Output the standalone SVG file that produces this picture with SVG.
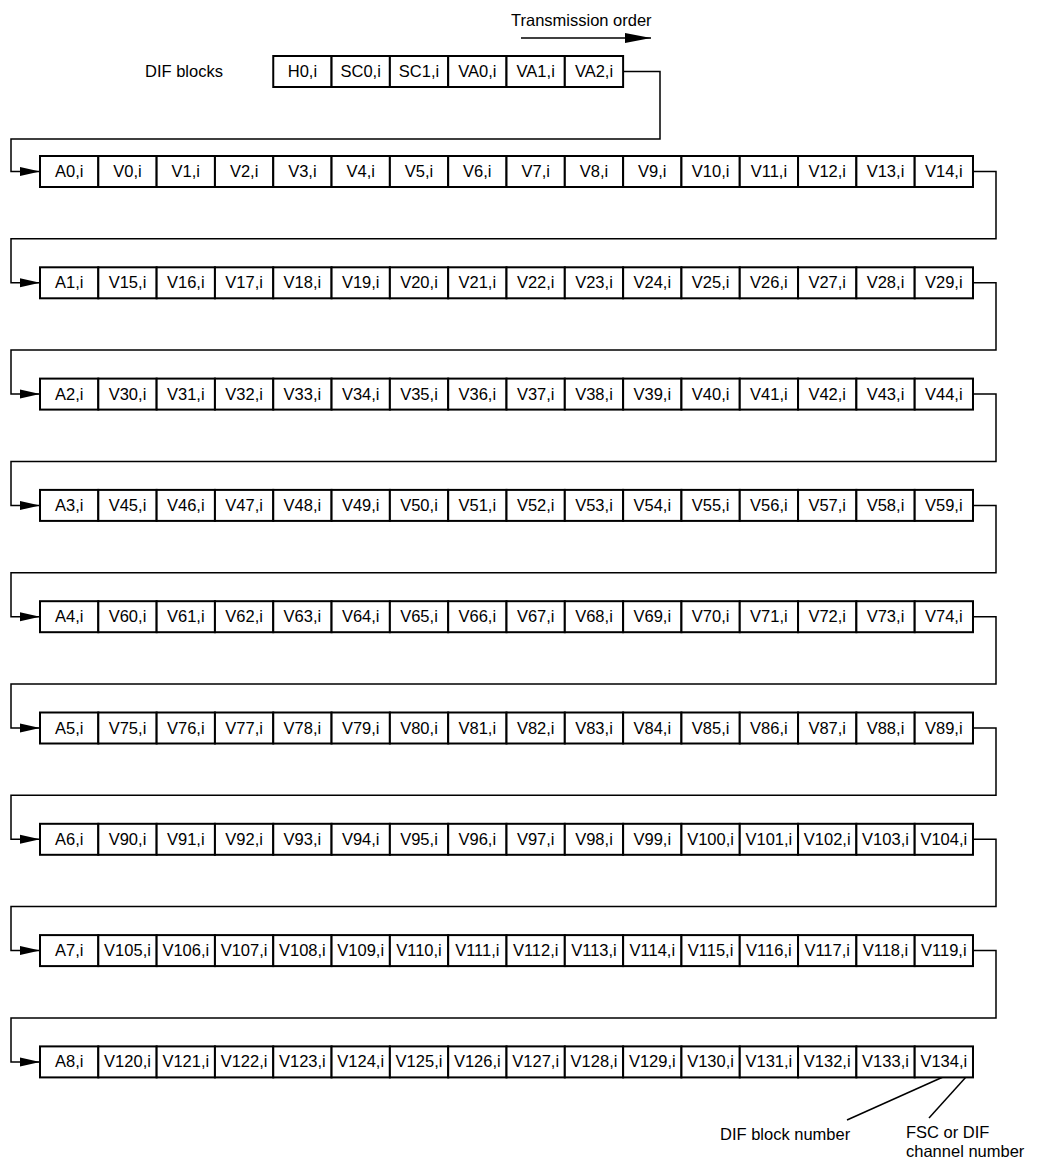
<svg xmlns="http://www.w3.org/2000/svg" width="1043" height="1162" viewBox="0 0 1043 1162">
<style>
text{font-family:"Liberation Sans",Arial,sans-serif;font-size:16.5px;fill:#000}
.b rect{fill:#fff;stroke:#000;stroke-width:2}
.b text{text-anchor:middle}
.c{fill:none;stroke:#000;stroke-width:1.5}
</style>
<defs>
<marker id="ah" markerUnits="userSpaceOnUse" markerWidth="20" markerHeight="10" refX="20" refY="5" orient="auto" viewBox="0 0 20 10"><path d="M0,0.5L20,5L0,9.5z" fill="#000"/></marker>
<marker id="ahb" markerUnits="userSpaceOnUse" markerWidth="26" markerHeight="11" refX="26" refY="5.5" orient="auto" viewBox="0 0 26 11"><path d="M0,0.5L26,5.5L0,10.5z" fill="#000"/></marker>
</defs>
<rect width="1043" height="1162" fill="#fff"/>
<text x="511" y="26">Transmission order</text>
<text x="145" y="77">DIF blocks</text>
<g id="connectors">
<path class="c" d="M521,38H651" marker-end="url(#ahb)"/>
<path class="c" d="M623,71.5H660V139H11V171.5H40" marker-end="url(#ah)"/>
<path class="c" d="M973,171.5H996V238.8H11V282.8H40" marker-end="url(#ah)"/>
<path class="c" d="M973,282.8H996V350.1H11V394.1H40" marker-end="url(#ah)"/>
<path class="c" d="M973,394.1H996V461.4H11V505.4H40" marker-end="url(#ah)"/>
<path class="c" d="M973,505.4H996V572.7H11V616.7H40" marker-end="url(#ah)"/>
<path class="c" d="M973,616.7H996V684H11V728H40" marker-end="url(#ah)"/>
<path class="c" d="M973,728H996V795.3H11V839.3H40" marker-end="url(#ah)"/>
<path class="c" d="M973,839.3H996V906.6H11V950.6H40" marker-end="url(#ah)"/>
<path class="c" d="M973,950.6H996V1017.9H11V1061.9H40" marker-end="url(#ah)"/>
<path class="c" d="M943,1077L847,1120"/>
<path class="c" d="M966,1077L929,1118"/>
</g>
<g id="top-row">
<g id="H0" class="b"><rect x="273.25" y="56" width="58.3" height="31"/><text x="302.4" y="77">H0,i</text></g>
<g id="SC0" class="b"><rect x="331.56" y="56" width="58.3" height="31"/><text x="360.7" y="77">SC0,i</text></g>
<g id="SC1" class="b"><rect x="389.88" y="56" width="58.3" height="31"/><text x="419" y="77">SC1,i</text></g>
<g id="VA0" class="b"><rect x="448.19" y="56" width="58.3" height="31"/><text x="477.3" y="77">VA0,i</text></g>
<g id="VA1" class="b"><rect x="506.5" y="56" width="58.3" height="31"/><text x="535.7" y="77">VA1,i</text></g>
<g id="VA2" class="b"><rect x="564.81" y="56" width="58.3" height="31"/><text x="594" y="77">VA2,i</text></g>
</g>
<g id="row0">
<g id="A0" class="b"><rect x="40" y="156" width="58.3" height="31"/><text x="69.2" y="177">A0,i</text></g>
<g id="V0" class="b"><rect x="98.31" y="156" width="58.3" height="31"/><text x="127.5" y="177">V0,i</text></g>
<g id="V1" class="b"><rect x="156.63" y="156" width="58.3" height="31"/><text x="185.8" y="177">V1,i</text></g>
<g id="V2" class="b"><rect x="214.94" y="156" width="58.3" height="31"/><text x="244.1" y="177">V2,i</text></g>
<g id="V3" class="b"><rect x="273.25" y="156" width="58.3" height="31"/><text x="302.4" y="177">V3,i</text></g>
<g id="V4" class="b"><rect x="331.56" y="156" width="58.3" height="31"/><text x="360.7" y="177">V4,i</text></g>
<g id="V5" class="b"><rect x="389.88" y="156" width="58.3" height="31"/><text x="419" y="177">V5,i</text></g>
<g id="V6" class="b"><rect x="448.19" y="156" width="58.3" height="31"/><text x="477.3" y="177">V6,i</text></g>
<g id="V7" class="b"><rect x="506.5" y="156" width="58.3" height="31"/><text x="535.7" y="177">V7,i</text></g>
<g id="V8" class="b"><rect x="564.81" y="156" width="58.3" height="31"/><text x="594" y="177">V8,i</text></g>
<g id="V9" class="b"><rect x="623.13" y="156" width="58.3" height="31"/><text x="652.3" y="177">V9,i</text></g>
<g id="V10" class="b"><rect x="681.44" y="156" width="58.3" height="31"/><text x="710.6" y="177">V10,i</text></g>
<g id="V11" class="b"><rect x="739.75" y="156" width="58.3" height="31"/><text x="768.9" y="177">V11,i</text></g>
<g id="V12" class="b"><rect x="798.06" y="156" width="58.3" height="31"/><text x="827.2" y="177">V12,i</text></g>
<g id="V13" class="b"><rect x="856.38" y="156" width="58.3" height="31"/><text x="885.5" y="177">V13,i</text></g>
<g id="V14" class="b"><rect x="914.69" y="156" width="58.3" height="31"/><text x="943.8" y="177">V14,i</text></g>
</g>
<g id="row1">
<g id="A1" class="b"><rect x="40" y="267.3" width="58.3" height="31"/><text x="69.2" y="288.3">A1,i</text></g>
<g id="V15" class="b"><rect x="98.31" y="267.3" width="58.3" height="31"/><text x="127.5" y="288.3">V15,i</text></g>
<g id="V16" class="b"><rect x="156.63" y="267.3" width="58.3" height="31"/><text x="185.8" y="288.3">V16,i</text></g>
<g id="V17" class="b"><rect x="214.94" y="267.3" width="58.3" height="31"/><text x="244.1" y="288.3">V17,i</text></g>
<g id="V18" class="b"><rect x="273.25" y="267.3" width="58.3" height="31"/><text x="302.4" y="288.3">V18,i</text></g>
<g id="V19" class="b"><rect x="331.56" y="267.3" width="58.3" height="31"/><text x="360.7" y="288.3">V19,i</text></g>
<g id="V20" class="b"><rect x="389.88" y="267.3" width="58.3" height="31"/><text x="419" y="288.3">V20,i</text></g>
<g id="V21" class="b"><rect x="448.19" y="267.3" width="58.3" height="31"/><text x="477.3" y="288.3">V21,i</text></g>
<g id="V22" class="b"><rect x="506.5" y="267.3" width="58.3" height="31"/><text x="535.7" y="288.3">V22,i</text></g>
<g id="V23" class="b"><rect x="564.81" y="267.3" width="58.3" height="31"/><text x="594" y="288.3">V23,i</text></g>
<g id="V24" class="b"><rect x="623.13" y="267.3" width="58.3" height="31"/><text x="652.3" y="288.3">V24,i</text></g>
<g id="V25" class="b"><rect x="681.44" y="267.3" width="58.3" height="31"/><text x="710.6" y="288.3">V25,i</text></g>
<g id="V26" class="b"><rect x="739.75" y="267.3" width="58.3" height="31"/><text x="768.9" y="288.3">V26,i</text></g>
<g id="V27" class="b"><rect x="798.06" y="267.3" width="58.3" height="31"/><text x="827.2" y="288.3">V27,i</text></g>
<g id="V28" class="b"><rect x="856.38" y="267.3" width="58.3" height="31"/><text x="885.5" y="288.3">V28,i</text></g>
<g id="V29" class="b"><rect x="914.69" y="267.3" width="58.3" height="31"/><text x="943.8" y="288.3">V29,i</text></g>
</g>
<g id="row2">
<g id="A2" class="b"><rect x="40" y="378.6" width="58.3" height="31"/><text x="69.2" y="399.6">A2,i</text></g>
<g id="V30" class="b"><rect x="98.31" y="378.6" width="58.3" height="31"/><text x="127.5" y="399.6">V30,i</text></g>
<g id="V31" class="b"><rect x="156.63" y="378.6" width="58.3" height="31"/><text x="185.8" y="399.6">V31,i</text></g>
<g id="V32" class="b"><rect x="214.94" y="378.6" width="58.3" height="31"/><text x="244.1" y="399.6">V32,i</text></g>
<g id="V33" class="b"><rect x="273.25" y="378.6" width="58.3" height="31"/><text x="302.4" y="399.6">V33,i</text></g>
<g id="V34" class="b"><rect x="331.56" y="378.6" width="58.3" height="31"/><text x="360.7" y="399.6">V34,i</text></g>
<g id="V35" class="b"><rect x="389.88" y="378.6" width="58.3" height="31"/><text x="419" y="399.6">V35,i</text></g>
<g id="V36" class="b"><rect x="448.19" y="378.6" width="58.3" height="31"/><text x="477.3" y="399.6">V36,i</text></g>
<g id="V37" class="b"><rect x="506.5" y="378.6" width="58.3" height="31"/><text x="535.7" y="399.6">V37,i</text></g>
<g id="V38" class="b"><rect x="564.81" y="378.6" width="58.3" height="31"/><text x="594" y="399.6">V38,i</text></g>
<g id="V39" class="b"><rect x="623.13" y="378.6" width="58.3" height="31"/><text x="652.3" y="399.6">V39,i</text></g>
<g id="V40" class="b"><rect x="681.44" y="378.6" width="58.3" height="31"/><text x="710.6" y="399.6">V40,i</text></g>
<g id="V41" class="b"><rect x="739.75" y="378.6" width="58.3" height="31"/><text x="768.9" y="399.6">V41,i</text></g>
<g id="V42" class="b"><rect x="798.06" y="378.6" width="58.3" height="31"/><text x="827.2" y="399.6">V42,i</text></g>
<g id="V43" class="b"><rect x="856.38" y="378.6" width="58.3" height="31"/><text x="885.5" y="399.6">V43,i</text></g>
<g id="V44" class="b"><rect x="914.69" y="378.6" width="58.3" height="31"/><text x="943.8" y="399.6">V44,i</text></g>
</g>
<g id="row3">
<g id="A3" class="b"><rect x="40" y="489.9" width="58.3" height="31"/><text x="69.2" y="510.9">A3,i</text></g>
<g id="V45" class="b"><rect x="98.31" y="489.9" width="58.3" height="31"/><text x="127.5" y="510.9">V45,i</text></g>
<g id="V46" class="b"><rect x="156.63" y="489.9" width="58.3" height="31"/><text x="185.8" y="510.9">V46,i</text></g>
<g id="V47" class="b"><rect x="214.94" y="489.9" width="58.3" height="31"/><text x="244.1" y="510.9">V47,i</text></g>
<g id="V48" class="b"><rect x="273.25" y="489.9" width="58.3" height="31"/><text x="302.4" y="510.9">V48,i</text></g>
<g id="V49" class="b"><rect x="331.56" y="489.9" width="58.3" height="31"/><text x="360.7" y="510.9">V49,i</text></g>
<g id="V50" class="b"><rect x="389.88" y="489.9" width="58.3" height="31"/><text x="419" y="510.9">V50,i</text></g>
<g id="V51" class="b"><rect x="448.19" y="489.9" width="58.3" height="31"/><text x="477.3" y="510.9">V51,i</text></g>
<g id="V52" class="b"><rect x="506.5" y="489.9" width="58.3" height="31"/><text x="535.7" y="510.9">V52,i</text></g>
<g id="V53" class="b"><rect x="564.81" y="489.9" width="58.3" height="31"/><text x="594" y="510.9">V53,i</text></g>
<g id="V54" class="b"><rect x="623.13" y="489.9" width="58.3" height="31"/><text x="652.3" y="510.9">V54,i</text></g>
<g id="V55" class="b"><rect x="681.44" y="489.9" width="58.3" height="31"/><text x="710.6" y="510.9">V55,i</text></g>
<g id="V56" class="b"><rect x="739.75" y="489.9" width="58.3" height="31"/><text x="768.9" y="510.9">V56,i</text></g>
<g id="V57" class="b"><rect x="798.06" y="489.9" width="58.3" height="31"/><text x="827.2" y="510.9">V57,i</text></g>
<g id="V58" class="b"><rect x="856.38" y="489.9" width="58.3" height="31"/><text x="885.5" y="510.9">V58,i</text></g>
<g id="V59" class="b"><rect x="914.69" y="489.9" width="58.3" height="31"/><text x="943.8" y="510.9">V59,i</text></g>
</g>
<g id="row4">
<g id="A4" class="b"><rect x="40" y="601.2" width="58.3" height="31"/><text x="69.2" y="622.2">A4,i</text></g>
<g id="V60" class="b"><rect x="98.31" y="601.2" width="58.3" height="31"/><text x="127.5" y="622.2">V60,i</text></g>
<g id="V61" class="b"><rect x="156.63" y="601.2" width="58.3" height="31"/><text x="185.8" y="622.2">V61,i</text></g>
<g id="V62" class="b"><rect x="214.94" y="601.2" width="58.3" height="31"/><text x="244.1" y="622.2">V62,i</text></g>
<g id="V63" class="b"><rect x="273.25" y="601.2" width="58.3" height="31"/><text x="302.4" y="622.2">V63,i</text></g>
<g id="V64" class="b"><rect x="331.56" y="601.2" width="58.3" height="31"/><text x="360.7" y="622.2">V64,i</text></g>
<g id="V65" class="b"><rect x="389.88" y="601.2" width="58.3" height="31"/><text x="419" y="622.2">V65,i</text></g>
<g id="V66" class="b"><rect x="448.19" y="601.2" width="58.3" height="31"/><text x="477.3" y="622.2">V66,i</text></g>
<g id="V67" class="b"><rect x="506.5" y="601.2" width="58.3" height="31"/><text x="535.7" y="622.2">V67,i</text></g>
<g id="V68" class="b"><rect x="564.81" y="601.2" width="58.3" height="31"/><text x="594" y="622.2">V68,i</text></g>
<g id="V69" class="b"><rect x="623.13" y="601.2" width="58.3" height="31"/><text x="652.3" y="622.2">V69,i</text></g>
<g id="V70" class="b"><rect x="681.44" y="601.2" width="58.3" height="31"/><text x="710.6" y="622.2">V70,i</text></g>
<g id="V71" class="b"><rect x="739.75" y="601.2" width="58.3" height="31"/><text x="768.9" y="622.2">V71,i</text></g>
<g id="V72" class="b"><rect x="798.06" y="601.2" width="58.3" height="31"/><text x="827.2" y="622.2">V72,i</text></g>
<g id="V73" class="b"><rect x="856.38" y="601.2" width="58.3" height="31"/><text x="885.5" y="622.2">V73,i</text></g>
<g id="V74" class="b"><rect x="914.69" y="601.2" width="58.3" height="31"/><text x="943.8" y="622.2">V74,i</text></g>
</g>
<g id="row5">
<g id="A5" class="b"><rect x="40" y="712.5" width="58.3" height="31"/><text x="69.2" y="733.5">A5,i</text></g>
<g id="V75" class="b"><rect x="98.31" y="712.5" width="58.3" height="31"/><text x="127.5" y="733.5">V75,i</text></g>
<g id="V76" class="b"><rect x="156.63" y="712.5" width="58.3" height="31"/><text x="185.8" y="733.5">V76,i</text></g>
<g id="V77" class="b"><rect x="214.94" y="712.5" width="58.3" height="31"/><text x="244.1" y="733.5">V77,i</text></g>
<g id="V78" class="b"><rect x="273.25" y="712.5" width="58.3" height="31"/><text x="302.4" y="733.5">V78,i</text></g>
<g id="V79" class="b"><rect x="331.56" y="712.5" width="58.3" height="31"/><text x="360.7" y="733.5">V79,i</text></g>
<g id="V80" class="b"><rect x="389.88" y="712.5" width="58.3" height="31"/><text x="419" y="733.5">V80,i</text></g>
<g id="V81" class="b"><rect x="448.19" y="712.5" width="58.3" height="31"/><text x="477.3" y="733.5">V81,i</text></g>
<g id="V82" class="b"><rect x="506.5" y="712.5" width="58.3" height="31"/><text x="535.7" y="733.5">V82,i</text></g>
<g id="V83" class="b"><rect x="564.81" y="712.5" width="58.3" height="31"/><text x="594" y="733.5">V83,i</text></g>
<g id="V84" class="b"><rect x="623.13" y="712.5" width="58.3" height="31"/><text x="652.3" y="733.5">V84,i</text></g>
<g id="V85" class="b"><rect x="681.44" y="712.5" width="58.3" height="31"/><text x="710.6" y="733.5">V85,i</text></g>
<g id="V86" class="b"><rect x="739.75" y="712.5" width="58.3" height="31"/><text x="768.9" y="733.5">V86,i</text></g>
<g id="V87" class="b"><rect x="798.06" y="712.5" width="58.3" height="31"/><text x="827.2" y="733.5">V87,i</text></g>
<g id="V88" class="b"><rect x="856.38" y="712.5" width="58.3" height="31"/><text x="885.5" y="733.5">V88,i</text></g>
<g id="V89" class="b"><rect x="914.69" y="712.5" width="58.3" height="31"/><text x="943.8" y="733.5">V89,i</text></g>
</g>
<g id="row6">
<g id="A6" class="b"><rect x="40" y="823.8" width="58.3" height="31"/><text x="69.2" y="844.8">A6,i</text></g>
<g id="V90" class="b"><rect x="98.31" y="823.8" width="58.3" height="31"/><text x="127.5" y="844.8">V90,i</text></g>
<g id="V91" class="b"><rect x="156.63" y="823.8" width="58.3" height="31"/><text x="185.8" y="844.8">V91,i</text></g>
<g id="V92" class="b"><rect x="214.94" y="823.8" width="58.3" height="31"/><text x="244.1" y="844.8">V92,i</text></g>
<g id="V93" class="b"><rect x="273.25" y="823.8" width="58.3" height="31"/><text x="302.4" y="844.8">V93,i</text></g>
<g id="V94" class="b"><rect x="331.56" y="823.8" width="58.3" height="31"/><text x="360.7" y="844.8">V94,i</text></g>
<g id="V95" class="b"><rect x="389.88" y="823.8" width="58.3" height="31"/><text x="419" y="844.8">V95,i</text></g>
<g id="V96" class="b"><rect x="448.19" y="823.8" width="58.3" height="31"/><text x="477.3" y="844.8">V96,i</text></g>
<g id="V97" class="b"><rect x="506.5" y="823.8" width="58.3" height="31"/><text x="535.7" y="844.8">V97,i</text></g>
<g id="V98" class="b"><rect x="564.81" y="823.8" width="58.3" height="31"/><text x="594" y="844.8">V98,i</text></g>
<g id="V99" class="b"><rect x="623.13" y="823.8" width="58.3" height="31"/><text x="652.3" y="844.8">V99,i</text></g>
<g id="V100" class="b"><rect x="681.44" y="823.8" width="58.3" height="31"/><text x="710.6" y="844.8">V100,i</text></g>
<g id="V101" class="b"><rect x="739.75" y="823.8" width="58.3" height="31"/><text x="768.9" y="844.8">V101,i</text></g>
<g id="V102" class="b"><rect x="798.06" y="823.8" width="58.3" height="31"/><text x="827.2" y="844.8">V102,i</text></g>
<g id="V103" class="b"><rect x="856.38" y="823.8" width="58.3" height="31"/><text x="885.5" y="844.8">V103,i</text></g>
<g id="V104" class="b"><rect x="914.69" y="823.8" width="58.3" height="31"/><text x="943.8" y="844.8">V104,i</text></g>
</g>
<g id="row7">
<g id="A7" class="b"><rect x="40" y="935.1" width="58.3" height="31"/><text x="69.2" y="956.1">A7,i</text></g>
<g id="V105" class="b"><rect x="98.31" y="935.1" width="58.3" height="31"/><text x="127.5" y="956.1">V105,i</text></g>
<g id="V106" class="b"><rect x="156.63" y="935.1" width="58.3" height="31"/><text x="185.8" y="956.1">V106,i</text></g>
<g id="V107" class="b"><rect x="214.94" y="935.1" width="58.3" height="31"/><text x="244.1" y="956.1">V107,i</text></g>
<g id="V108" class="b"><rect x="273.25" y="935.1" width="58.3" height="31"/><text x="302.4" y="956.1">V108,i</text></g>
<g id="V109" class="b"><rect x="331.56" y="935.1" width="58.3" height="31"/><text x="360.7" y="956.1">V109,i</text></g>
<g id="V110" class="b"><rect x="389.88" y="935.1" width="58.3" height="31"/><text x="419" y="956.1">V110,i</text></g>
<g id="V111" class="b"><rect x="448.19" y="935.1" width="58.3" height="31"/><text x="477.3" y="956.1">V111,i</text></g>
<g id="V112" class="b"><rect x="506.5" y="935.1" width="58.3" height="31"/><text x="535.7" y="956.1">V112,i</text></g>
<g id="V113" class="b"><rect x="564.81" y="935.1" width="58.3" height="31"/><text x="594" y="956.1">V113,i</text></g>
<g id="V114" class="b"><rect x="623.13" y="935.1" width="58.3" height="31"/><text x="652.3" y="956.1">V114,i</text></g>
<g id="V115" class="b"><rect x="681.44" y="935.1" width="58.3" height="31"/><text x="710.6" y="956.1">V115,i</text></g>
<g id="V116" class="b"><rect x="739.75" y="935.1" width="58.3" height="31"/><text x="768.9" y="956.1">V116,i</text></g>
<g id="V117" class="b"><rect x="798.06" y="935.1" width="58.3" height="31"/><text x="827.2" y="956.1">V117,i</text></g>
<g id="V118" class="b"><rect x="856.38" y="935.1" width="58.3" height="31"/><text x="885.5" y="956.1">V118,i</text></g>
<g id="V119" class="b"><rect x="914.69" y="935.1" width="58.3" height="31"/><text x="943.8" y="956.1">V119,i</text></g>
</g>
<g id="row8">
<g id="A8" class="b"><rect x="40" y="1046.4" width="58.3" height="31"/><text x="69.2" y="1067.4">A8,i</text></g>
<g id="V120" class="b"><rect x="98.31" y="1046.4" width="58.3" height="31"/><text x="127.5" y="1067.4">V120,i</text></g>
<g id="V121" class="b"><rect x="156.63" y="1046.4" width="58.3" height="31"/><text x="185.8" y="1067.4">V121,i</text></g>
<g id="V122" class="b"><rect x="214.94" y="1046.4" width="58.3" height="31"/><text x="244.1" y="1067.4">V122,i</text></g>
<g id="V123" class="b"><rect x="273.25" y="1046.4" width="58.3" height="31"/><text x="302.4" y="1067.4">V123,i</text></g>
<g id="V124" class="b"><rect x="331.56" y="1046.4" width="58.3" height="31"/><text x="360.7" y="1067.4">V124,i</text></g>
<g id="V125" class="b"><rect x="389.88" y="1046.4" width="58.3" height="31"/><text x="419" y="1067.4">V125,i</text></g>
<g id="V126" class="b"><rect x="448.19" y="1046.4" width="58.3" height="31"/><text x="477.3" y="1067.4">V126,i</text></g>
<g id="V127" class="b"><rect x="506.5" y="1046.4" width="58.3" height="31"/><text x="535.7" y="1067.4">V127,i</text></g>
<g id="V128" class="b"><rect x="564.81" y="1046.4" width="58.3" height="31"/><text x="594" y="1067.4">V128,i</text></g>
<g id="V129" class="b"><rect x="623.13" y="1046.4" width="58.3" height="31"/><text x="652.3" y="1067.4">V129,i</text></g>
<g id="V130" class="b"><rect x="681.44" y="1046.4" width="58.3" height="31"/><text x="710.6" y="1067.4">V130,i</text></g>
<g id="V131" class="b"><rect x="739.75" y="1046.4" width="58.3" height="31"/><text x="768.9" y="1067.4">V131,i</text></g>
<g id="V132" class="b"><rect x="798.06" y="1046.4" width="58.3" height="31"/><text x="827.2" y="1067.4">V132,i</text></g>
<g id="V133" class="b"><rect x="856.38" y="1046.4" width="58.3" height="31"/><text x="885.5" y="1067.4">V133,i</text></g>
<g id="V134" class="b"><rect x="914.69" y="1046.4" width="58.3" height="31"/><text x="943.8" y="1067.4">V134,i</text></g>
</g>
<text x="720" y="1140">DIF block number</text>
<text x="906" y="1138">FSC or DIF</text>
<text x="906" y="1157">channel number</text>
</svg>
